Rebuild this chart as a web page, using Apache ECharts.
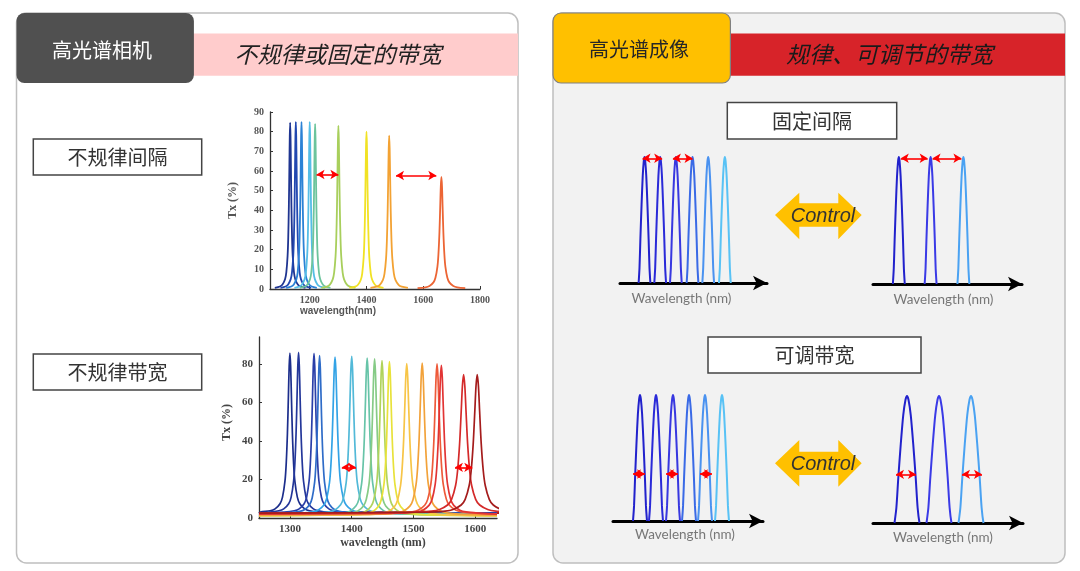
<!DOCTYPE html>
<html>
<head>
<meta charset="utf-8">
<script src="https://cdn.jsdelivr.net/npm/echarts@6/dist/echarts.min.js"></script>
<style>
html,body{margin:0;padding:0;background:#fff;}
#c{width:1080px;height:571px;}
</style>
</head>
<body>
<div id="c"></div>
<script>
// ---------- Data ----------
// Top-left: irregular spacing spectrum
const topCenters = [1131, 1151, 1171, 1200, 1219, 1301, 1400, 1480, 1664];
const topHeights = [84.6, 85, 85, 85, 84, 83, 80, 78, 57];
const topFwhm    = [9, 9, 9, 9, 9, 10, 10, 11, 14];
const topColors  = ['#1f3591', '#2248b0', '#2b82d5', '#55bde6', '#6cc49c', '#a8cf5c', '#f1e224', '#f3a233', '#ec6535'];
const topXTicks  = [1200, 1400, 1600, 1800];
const topArrows  = [[1224, 1301, 58.2], [1504, 1646, 57.7]];

// Bottom-left: irregular bandwidth spectrum
const botCenters = [1300, 1314, 1339, 1348, 1373, 1400, 1425, 1437, 1449, 1461, 1489, 1514, 1538, 1545, 1581, 1603];
const botHeights = [85.7, 86, 85.5, 84.3, 83.5, 84, 83.1, 82.6, 81.7, 81.2, 80.2, 80.5, 80, 79.3, 74.5, 74.5];
const botFwhm    = [8, 8, 8, 8, 9, 9, 9, 9, 9, 9, 10, 10, 10, 10, 13, 13];
const botBase    = [2.5, 2.5, 2.5, 2.2, 2, 2, 1.5, 1.5, 1.2, 1.2, 1.2, 1.5, 2, 2, 2.5, 2.5];
const botColors  = ['#1c2e8c', '#24379a', '#2a3fa8', '#2f6cc8', '#33a3e6', '#52b9d8', '#67c4a8', '#86cb86', '#b0d35c', '#e8e23a', '#f7c547', '#f2a23a', '#ee5a3a', '#e23434', '#d42a2a', '#a51c1c'];
const botXTicks  = [1300, 1400, 1500, 1600];
const botYTicks  = [0, 20, 40, 60, 80];
const botArrows  = [[1384, 1407, 26.3], [1567, 1595, 26.3]];

// Lorentzian-like line profile: [offset in FWHM units, relative height]
const lorentzProfile = [[-6,0.007],[-4,0.015],[-3,0.027],[-2,0.059],[-1.5,0.1],[-1,0.2],[-0.75,0.308],[-0.5,0.5],[-0.3,0.735],[-0.15,0.917],[0,1],[0.15,0.917],[0.3,0.735],[0.5,0.5],[0.75,0.308],[1,0.2],[1.5,0.1],[2,0.059],[3,0.027],[4,0.015],[6,0.007]];
// Narrow filter-like profile for the schematic diagrams: [offset in half-base units, relative height]
const filterProfile = [[-1,0],[-0.85,0.12],[-0.7,0.35],[-0.5,0.62],[-0.3,0.85],[-0.12,0.97],[0,1],[0.12,0.97],[0.3,0.85],[0.5,0.62],[0.7,0.35],[0.85,0.12],[1,0]];

// Right schematic diagrams (arbitrary wavelength units)
const diagColors6 = ['#2222cc', '#2a2ad8', '#3838e0', '#3a6ae6', '#4a92f0', '#58c2f5'];
const diagColors3 = ['#2222cc', '#3a3ae6', '#4aa2f2'];
const fixedA_centers = [25, 41, 57, 74, 90, 107];
const fixedA_halfW   = [6, 6, 6, 6, 6, 6];
const fixedA_arrows  = [[23, 43, 0.99], [54, 74, 0.99]];
const fixedB_centers = [26, 58, 91];
const fixedB_halfW   = [6, 6, 6];
const fixedB_arrows  = [[28, 55, 0.99], [60, 89, 0.99]];
const tuneA_centers  = [27, 43, 60, 76, 92, 109];
const tuneA_halfW    = [7, 7, 7, 7, 7, 7];
const tuneA_arrows   = [[20, 32, 0.373], [53, 65, 0.373], [87, 99, 0.373]];
const tuneB_centers  = [34, 66, 98];
const tuneB_halfW    = [12.5, 12.5, 12.5];
const tuneB_arrows   = [[23, 43, 0.383], [89, 109, 0.383]];

// ---------- Helpers ----------
function peakData(c, h, w, base, prof, xmin, xmax) {
  const pts = prof.map(p => [c + p[0] * w, base + (h - base) * p[1]]);
  if (xmin !== undefined) { pts.unshift([xmin, base]); pts.push([xmax, base]); }
  return pts;
}
function arrowMark(arrows) {
  return {
    silent: true, animation: false,
    symbol: ['arrow', 'arrow'], symbolSize: [7, 8],
    lineStyle: {color: '#ff0000', width: 1.6, type: 'solid'},
    label: {show: false},
    emphasis: {disabled: true},
    data: arrows.map(a => [{coord: [a[0], a[2]]}, {coord: [a[1], a[2]]}])
  };
}

const series = [];
// Top-left
topCenters.forEach((c, i) => {
  series.push({
    type: 'line', xAxisIndex: 0, yAxisIndex: 0, symbol: 'none', smooth: 0.3,
    data: peakData(c, topHeights[i], topFwhm[i], 0, lorentzProfile),
    lineStyle: {color: topColors[i], width: 1.8}, z: 3,
    markLine: i === topCenters.length - 1 ? arrowMark(topArrows) : undefined
  });
});
// Bottom-left
botCenters.forEach((c, i) => {
  series.push({
    type: 'line', xAxisIndex: 1, yAxisIndex: 1, symbol: 'none', smooth: 0.3,
    data: peakData(c, botHeights[i], botFwhm[i], botBase[i], lorentzProfile, 1250, 1635),
    lineStyle: {color: botColors[i], width: 1.7}, z: 3,
    markLine: i === botCenters.length - 1 ? arrowMark(botArrows) : undefined
  });
});
// Right diagrams
function diag(gi, centers, halfW, colors, arrows) {
  centers.forEach((c, i) => {
    series.push({
      type: 'line', xAxisIndex: gi, yAxisIndex: gi, symbol: 'none', smooth: 0.25, clip: false,
      data: peakData(c, 1, halfW[i], 0, filterProfile),
      lineStyle: {color: colors[i], width: 2}, z: 3,
      markLine: i === centers.length - 1 ? arrowMark(arrows) : undefined
    });
  });
}
diag(2, fixedA_centers, fixedA_halfW, diagColors6, fixedA_arrows);
diag(3, fixedB_centers, fixedB_halfW, diagColors3, fixedB_arrows);
diag(4, tuneA_centers, tuneA_halfW, diagColors6, tuneA_arrows);
diag(5, tuneB_centers, tuneB_halfW, diagColors3, tuneB_arrows);

// ---------- Axes ----------
const serif = 'Liberation Serif';
const plain = v => String(v);
function leftX(gi, min, max, ticks, name, gap, pad, fs, col) {
  return {
    type: 'value', gridIndex: gi, min: min, max: max,
    axisLine: {show: true, lineStyle: {color: '#333', width: 1.3}},
    axisTick: {show: true, inside: true, length: 3, customValues: ticks, lineStyle: {color: '#333'}},
    axisLabel: {customValues: ticks, formatter: plain, fontFamily: serif, fontWeight: 'bold', fontSize: fs, color: col, margin: 6},
    splitLine: {show: false},
    name: name, nameLocation: 'middle', nameGap: gap,
    nameTextStyle: {fontFamily: gi === 0 ? 'Liberation Sans' : serif, fontWeight: 'bold', fontSize: gi === 0 ? 10 : 12, color: col, padding: pad}
  };
}
function diagX(gi, pad, gap) {
  return {
    type: 'value', gridIndex: gi, min: 0, max: 150,
    axisLine: {show: true, lineStyle: {color: '#000', width: 3}, symbol: ['none', 'arrow'], symbolSize: [11, 14]},
    axisTick: {show: false}, axisLabel: {show: false}, splitLine: {show: false},
    name: 'Wavelength (nm)', nameLocation: 'middle', nameGap: gap,
    nameTextStyle: {fontFamily: 'Lato', fontSize: 13.5, color: '#777', padding: pad}
  };
}
function diagY(gi) {
  return {type: 'value', gridIndex: gi, min: 0, max: 1, show: false};
}

const option = {
  animation: false,
  grid: [
    {left: 270, top: 112, width: 210, height: 177},
    {left: 259, top: 337, width: 238, height: 181},
    {left: 620, top: 157, width: 147, height: 126},
    {left: 873, top: 157, width: 149, height: 127},
    {left: 613, top: 395, width: 150, height: 126},
    {left: 873, top: 396, width: 150, height: 127}
  ],
  xAxis: [
    leftX(0, 1060, 1800, topXTicks, 'wavelength(nm)', 16, [0, 74, 0, 0], 10, '#555'),
    leftX(1, 1250, 1635, botXTicks, 'wavelength (nm)', 19, [0, 0, 0, 10], 11, '#444'),
    diagX(2, [0, 24, 0, 0], 9),
    diagX(3, [0, 8, 0, 0], 9),
    diagX(4, [0, 6, 0, 0], 7),
    diagX(5, [0, 10, 0, 0], 8)
  ],
  yAxis: [
    {
      type: 'value', gridIndex: 0, min: 0, max: 90, interval: 10,
      axisLine: {show: true, lineStyle: {color: '#333', width: 1.3}},
      axisTick: {show: true, inside: true, length: 3, lineStyle: {color: '#333'}},
      axisLabel: {formatter: plain, fontFamily: serif, fontWeight: 'bold', fontSize: 10, color: '#555', margin: 6},
      splitLine: {show: false},
      name: 'Tx (%)', nameLocation: 'middle', nameGap: 31, nameRotate: 90,
      nameTextStyle: {fontFamily: serif, fontWeight: 'bold', fontSize: 12, color: '#555'}
    },
    {
      type: 'value', gridIndex: 1, min: 0, max: 94,
      axisLine: {show: true, lineStyle: {color: '#333', width: 1.3}},
      axisTick: {show: true, inside: true, length: 3, customValues: botYTicks, lineStyle: {color: '#333'}},
      axisLabel: {customValues: botYTicks, formatter: plain, fontFamily: serif, fontWeight: 'bold', fontSize: 11, color: '#444', margin: 6},
      splitLine: {show: false},
      name: 'Tx (%)', nameLocation: 'middle', nameGap: 26, nameRotate: 90,
      nameTextStyle: {fontFamily: serif, fontWeight: 'bold', fontSize: 12, color: '#444', padding: [0, 0, 0, 10]}
    },
    diagY(2), diagY(3), diagY(4), diagY(5)
  ],
  series: series,
  graphic: [
    // Left panel
    {type: 'rect', z: -10, shape: {x: 16.5, y: 13, width: 501.5, height: 550, r: 10}, style: {fill: '#ffffff', stroke: '#bfbfbf', lineWidth: 1.5}},
    {type: 'rect', z: -9, shape: {x: 190, y: 33.4, width: 328, height: 42.4}, style: {fill: '#ffcccc'}},
    {type: 'rect', z: -8, shape: {x: 16.5, y: 13, width: 177.4, height: 70, r: 8}, style: {fill: '#505050'}},
    {type: 'text', z: -7, style: {text: '高光谱相机', x: 102, y: 50, align: 'center', verticalAlign: 'middle', font: '20px "Noto Sans CJK SC"', fill: '#ffffff'}},
    {type: 'text', z: -7, style: {text: '不规律或固定的带宽', x: 338, y: 54, align: 'center', verticalAlign: 'middle', font: 'italic 23px "Noto Sans CJK SC"', fill: '#222222'}},
    {type: 'rect', z: -7, shape: {x: 33.3, y: 139, width: 168.4, height: 36}, style: {fill: '#ffffff', stroke: '#444', lineWidth: 1.5}},
    {type: 'text', z: -6, style: {text: '不规律间隔', x: 117.5, y: 157, align: 'center', verticalAlign: 'middle', font: '20px "Noto Sans CJK SC"', fill: '#333'}},
    {type: 'rect', z: -7, shape: {x: 33.3, y: 354, width: 168.4, height: 36}, style: {fill: '#ffffff', stroke: '#444', lineWidth: 1.5}},
    {type: 'text', z: -6, style: {text: '不规律带宽', x: 117.5, y: 372, align: 'center', verticalAlign: 'middle', font: '20px "Noto Sans CJK SC"', fill: '#333'}},
    // Right panel
    {type: 'rect', z: -10, shape: {x: 553, y: 13, width: 512, height: 550, r: 10}, style: {fill: '#f2f2f2', stroke: '#bfbfbf', lineWidth: 1.5}},
    {type: 'rect', z: -9, shape: {x: 728, y: 33.4, width: 337, height: 42.4}, style: {fill: '#d72329'}},
    {type: 'rect', z: -8, shape: {x: 553, y: 13, width: 177.4, height: 70, r: 8}, style: {fill: '#ffc000', stroke: '#808080', lineWidth: 1.2}},
    {type: 'text', z: -7, style: {text: '高光谱成像', x: 639, y: 49, align: 'center', verticalAlign: 'middle', font: '20px "Noto Sans CJK SC"', fill: '#262626'}},
    {type: 'text', z: -7, style: {text: '规律、可调节的带宽', x: 889.5, y: 54, align: 'center', verticalAlign: 'middle', font: 'italic 23px "Noto Sans CJK SC"', fill: '#1a1a1a'}},
    {type: 'rect', z: -7, shape: {x: 727.3, y: 102.5, width: 169.4, height: 36.5}, style: {fill: '#ffffff', stroke: '#444', lineWidth: 1.5}},
    {type: 'text', z: -6, style: {text: '固定间隔', x: 812, y: 121, align: 'center', verticalAlign: 'middle', font: '20px "Noto Sans CJK SC"', fill: '#333'}},
    {type: 'rect', z: -7, shape: {x: 708, y: 337, width: 213, height: 36}, style: {fill: '#ffffff', stroke: '#444', lineWidth: 1.5}},
    {type: 'text', z: -6, style: {text: '可调带宽', x: 814.5, y: 355, align: 'center', verticalAlign: 'middle', font: '20px "Noto Sans CJK SC"', fill: '#333'}},
    // Control arrows
    {type: 'polygon', z: -6, shape: {points: [[775,215],[799.3,192.7],[799.3,203.3],[838.3,203.3],[838.3,192.7],[861.7,215],[838.3,239.3],[838.3,226.7],[799.3,226.7],[799.3,239.3]]}, style: {fill: '#ffc000'}},
    {type: 'text', z: -5, style: {text: 'Control', x: 823, y: 216, align: 'center', verticalAlign: 'middle', font: 'italic 20px "Liberation Sans"', fill: '#333'}},
    {type: 'polygon', z: -6, shape: {points: [[775,463.3],[799.3,440],[799.3,451.7],[838.3,451.7],[838.3,440],[861.7,463.3],[838.3,486.7],[838.3,475],[799.3,475],[799.3,486.7]]}, style: {fill: '#ffc000'}},
    {type: 'text', z: -5, style: {text: 'Control', x: 823, y: 464, align: 'center', verticalAlign: 'middle', font: 'italic 20px "Liberation Sans"', fill: '#333'}}
  ]
};

const chart = echarts.init(document.getElementById('c'), null, {renderer: 'canvas', width: 1080, height: 571});
chart.setOption(option);
</script>
</body>
</html>
